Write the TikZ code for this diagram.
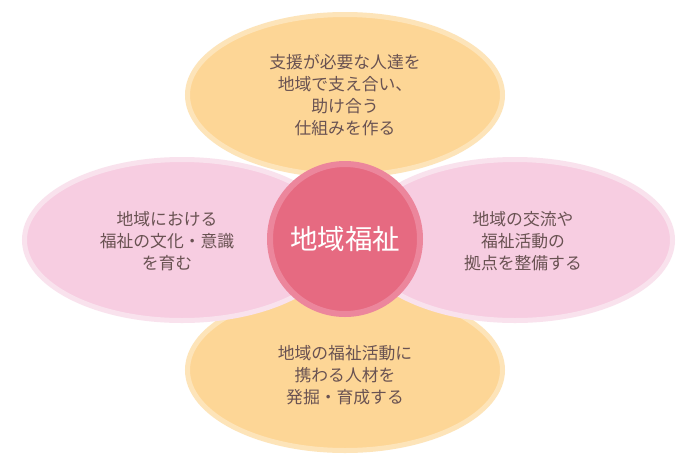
\documentclass[tikz,border=0pt]{standalone}
\usepackage{fontspec}
\newfontfamily\jpfont{Noto Sans CJK JP}
\usetikzlibrary{shapes.geometric,positioning}
\definecolor{orangefill}{RGB}{253,214,150}
\definecolor{orangeedge}{RGB}{253,228,185}
\definecolor{pinkfill}{RGB}{247,205,225}
\definecolor{pinkedge}{RGB}{249,226,237}
\definecolor{corefill}{RGB}{230,106,129}
\definecolor{coreedge}{RGB}{236,134,156}
\definecolor{textbrown}{RGB}{105,82,82}
\tikzset{
    % 花びら
    orangepetal/.style={
        ellipse,
        fill=orangefill,
        draw=orangeedge,
        line width=5pt,
        minimum width=315pt,
        minimum height=161pt
    },
    pinkpetal/.style={
        ellipse,
        fill=pinkfill,
        draw=pinkedge,
        line width=5pt,
        minimum width=315pt,
        minimum height=161pt
    },
    petaltext/.style={
        align=center,
        text=textbrown,
        font=\jpfont\fontsize{16.8}{22}\selectfont
    },
    corecircle/.style={
        circle,
        fill=corefill,
        draw=coreedge,
        line width=6pt,
        minimum size=150pt,
        text=white,
        font=\jpfont\fontsize{27.5}{30}\selectfont
    }
}

\begin{document}
\begin{tikzpicture}[x=1pt, y=-1pt]
            \useasboundingbox[fill=white] (0,0) rectangle (699,472);

            % 上下
            \node[orangepetal] (top) at (345,95) {};
            \node[orangepetal] (bottom) at (345,370) {};
            % 左右
            \node[pinkpetal] (left) at (182,240) {};
            \node[pinkpetal] (right) at (515,240) {};

            %label
            \node[petaltext] (toptext) at (top.center) {支援が必要な人達を\\地域で支え合い、\\助け合う\\仕組みを作る};
            \node[petaltext] (bottomtext) at ([yshift=-5pt]bottom.center) {地域の福祉活動に\\携わる人材を\\発掘・育成する};
            \node[petaltext] (lefttext) at ([xshift=-15pt,yshift=-1pt]left.center) {地域における\\福祉の文化・意識\\を育む};
            \node[petaltext] (righttext) at ([xshift=8pt,yshift=-1pt]right.center) {地域の交流や\\福祉活動の\\拠点を整備する};

            \node[corecircle] (core) at (345,239) {地域福祉};
        \end{tikzpicture}
\end{document}
